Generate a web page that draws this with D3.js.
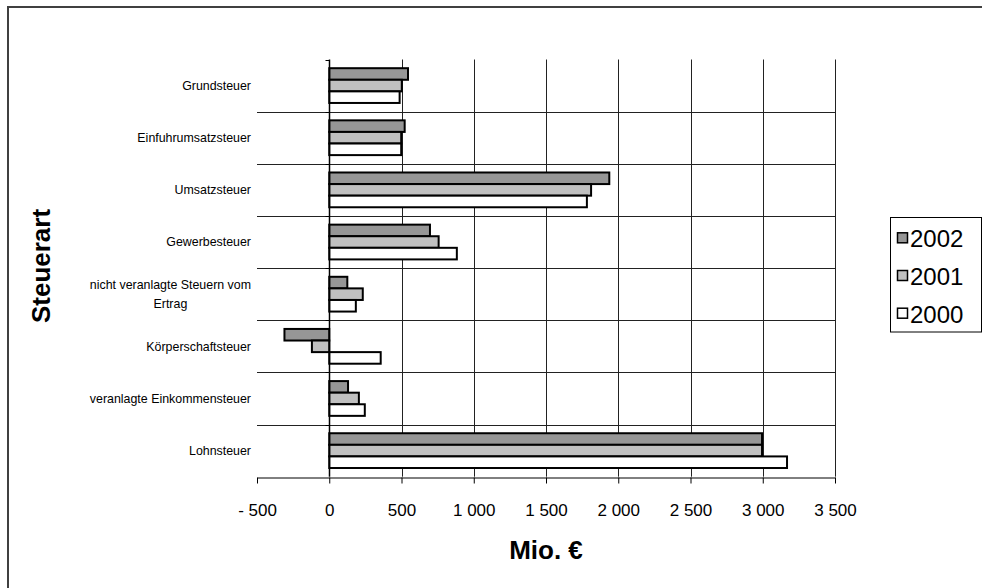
<!DOCTYPE html>
<html>
<head>
<meta charset="utf-8">
<script src="https://cdn.jsdelivr.net/npm/d3@7"></script>
<style>
  html, body { margin: 0; padding: 0; background: #fff; overflow: hidden; }
  svg { display: block; font-family: "Liberation Sans", Arial, sans-serif; }
</style>
</head>
<body>
<svg id="chart" width="982" height="588"></svg>
<script>
// ---- data ----
const categories = [
  "Grundsteuer",
  "Einfuhrumsatzsteuer",
  "Umsatzsteuer",
  "Gewerbesteuer",
  "nicht veranlagte Steuern vom|Ertrag",
  "Körperschaftsteuer",
  "veranlagte Einkommensteuer",
  "Lohnsteuer"
];
const seriesNames = ["2002", "2001", "2000"];
const values2002 = [545, 522, 1938, 697, 125, -310, 130, 2995];
const values2001 = [502, 498, 1812, 757, 232, -120, 205, 2995];
const values2000 = [487, 498, 1783, 883, 184, 356, 246, 3168];
const xTicks = [-500, 0, 500, 1000, 1500, 2000, 2500, 3000, 3500];
const seriesColors = ["#969696", "#c0c0c0", "#ffffff"];

const seriesValues = { "2002": values2002, "2001": values2001, "2000": values2000 };

// ---- layout ----
const svg = d3.select("#chart");
const pLeft = 257, pRight = 835, pTop = 59.5, pBottom = 476.7;

const x = d3.scaleLinear().domain([xTicks[0], xTicks[xTicks.length - 1]]).range([pLeft, pRight]);
const y = d3.scaleBand().domain(categories).range([pTop, pBottom]).padding(0);
const ySub = d3.scaleBand().domain(seriesNames).range([0, y.bandwidth()])
  .paddingInner(0).paddingOuter(0.75);
const color = d3.scaleOrdinal().domain(seriesNames).range(seriesColors);

// outer frame (only left and top edges are inside the picture)
svg.append("path")
  .attr("d", "M8,588 L8,7 L982,7")
  .attr("fill", "none").attr("stroke", "#404040").attr("stroke-width", 2);

// grid: vertical lines
svg.append("g").selectAll("line")
  .data(xTicks.filter(d => d > 0))
  .join("line")
  .attr("x1", d => Math.round(x(d)) + 0.5).attr("x2", d => Math.round(x(d)) + 0.5)
  .attr("y1", pTop).attr("y2", pBottom)
  .attr("stroke", "#222").attr("stroke-width", 1);

// grid: horizontal category boundaries
const boundaries = categories.slice(1).map(c => y(c));
svg.append("g").selectAll("line")
  .data(boundaries)
  .join("line")
  .attr("x1", pLeft).attr("x2", pRight)
  .attr("y1", d => Math.round(d) + 0.5).attr("y2", d => Math.round(d) + 0.5)
  .attr("stroke", "#222").attr("stroke-width", 1);

// bars
const barG = svg.append("g");
seriesNames.forEach(s => {
  barG.append("g").selectAll("rect")
    .data(categories.map((c, i) => ({ c, v: seriesValues[s][i] })))
    .join("rect")
    .attr("x", d => x(Math.min(0, d.v)))
    .attr("width", d => Math.abs(x(d.v) - x(0)))
    .attr("y", d => y(d.c) + ySub(s))
    .attr("height", ySub.bandwidth())
    .attr("fill", color(s))
    .attr("stroke", "#000").attr("stroke-width", 2);
});

// category axis (zero line)
const zx = Math.round(x(0)) + 0.5;
svg.append("line")
  .attr("x1", zx).attr("x2", zx).attr("y1", pTop).attr("y2", pBottom)
  .attr("stroke", "#000").attr("stroke-width", 1.5);
svg.append("g").selectAll("line")
  .data([pTop, ...boundaries])
  .join("line")
  .attr("x1", zx - 4).attr("x2", zx)
  .attr("y1", d => Math.round(d) + 0.5).attr("y2", d => Math.round(d) + 0.5)
  .attr("stroke", "#000");

// category labels
const labG = svg.append("g")
  .attr("font-size", "12.4px").attr("fill", "#000");
categories.forEach(c => {
  const lines = c.split("|");
  const cy = y(c) + y.bandwidth() / 2;
  if (lines.length === 1) {
    labG.append("text").attr("x", 251).attr("y", cy).attr("dy", "0.35em")
      .attr("text-anchor", "end").text(c);
  } else {
    const t0 = labG.append("text").attr("text-anchor", "end")
      .attr("x", 251).attr("y", cy - 9.75).attr("dy", "0.35em").text(lines[0]);
    const w = t0.node().getComputedTextLength();
    const mid = 251 - w / 2;
    t0.attr("text-anchor", "middle").attr("x", mid);
    for (let k = 1; k < lines.length; k++) {
      labG.append("text").attr("text-anchor", "middle")
        .attr("x", mid).attr("y", cy - 9.75 + 19.5 * k).attr("dy", "0.35em").text(lines[k]);
    }
  }
});

// x axis
const fmt = d => {
  const s = d3.format(",")(Math.abs(d)).replace(/,/g, " ");
  return d < 0 ? "- " + s : s;
};
const xAxis = d3.axisBottom(x).tickValues(xTicks).tickFormat(fmt)
  .tickSizeInner(6).tickSizeOuter(0).tickPadding(20);
const gx = svg.append("g").attr("transform", `translate(0,${Math.round(pBottom) + 0.5})`).call(xAxis);
gx.select(".domain").attr("stroke", "#000");
gx.selectAll(".tick line").attr("stroke", "#000");
gx.selectAll(".tick text").attr("font-size", "17px")
  .attr("font-family", "Liberation Sans, Arial, sans-serif").attr("fill", "#000");

// axis titles
svg.append("text").attr("x", 546).attr("y", 559).attr("text-anchor", "middle")
  .attr("font-size", "26px").attr("font-weight", "bold").text("Mio. €");
svg.append("text").attr("transform", "translate(50,266) rotate(-90)")
  .attr("text-anchor", "middle").attr("font-size", "26px").attr("font-weight", "bold")
  .text("Steuerart");

// legend
const lg = svg.append("g");
lg.append("rect").attr("x", 890.5).attr("y", 217.5).attr("width", 91).attr("height", 114.5)
  .attr("fill", "#fff").attr("stroke", "#000").attr("stroke-width", 1);
seriesNames.forEach((s, i) => {
  const by = 247.3 + i * 37.7;
  lg.append("rect").attr("x", 897.5).attr("y", by - 14.5).attr("width", 10).attr("height", 10)
    .attr("fill", color(s)).attr("stroke", "#000").attr("stroke-width", 1.5);
  lg.append("text").attr("x", 910).attr("y", by).attr("font-size", "24px").text(s);
});
</script>
</body>
</html>
